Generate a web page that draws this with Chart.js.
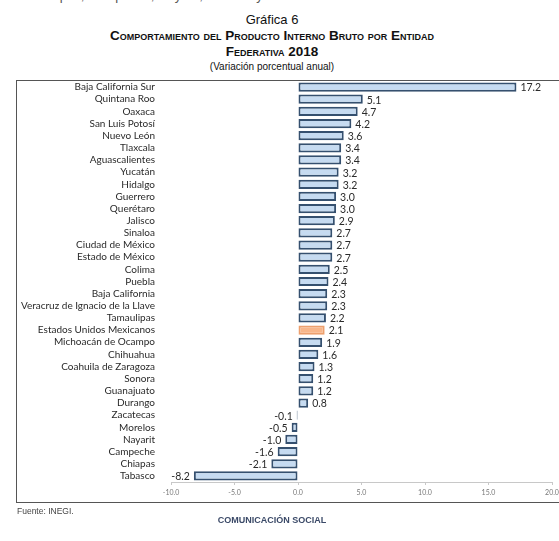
<!DOCTYPE html>
<html lang="es"><head>
<meta charset="utf-8">
<title>Gráfica 6</title>
<style type="text/css">
html, body { margin:0; padding:0; width:559px; height:541px; overflow:hidden; background:#ffffff; }
body { position:relative; font-family:"Liberation Sans",Arial,sans-serif; }
.cut { position:absolute; left:33px; top:-12px; font-size:13px; color:#555; white-space:nowrap; }
.t1 { position:absolute; left:0; width:544px; text-align:center; color:#111; }
.box { position:absolute; left:16px; top:80px; width:620px; height:421px; border:1px solid #555; }
#wrap { position:absolute; left:0; top:0; width:600px; height:541px; }
.src { position:absolute; left:17px; top:506px; font-size:8.5px; color:#444; }
.foot { position:absolute; left:0; width:544px; top:515px; text-align:center; font-size:9px; font-weight:bold; color:#3b4a68; }
</style>
<script src="https://cdn.jsdelivr.net/npm/chart.js"></script>
<script>
// entidades, ordenadas de mayor a menor
var entidades=["Baja California Sur","Quintana Roo","Oaxaca","San Luis Potosí","Nuevo León",
  "Tlaxcala","Aguascalientes","Yucatán","Hidalgo","Guerrero","Querétaro","Jalisco","Sinaloa",
  "Ciudad de México","Estado de México","Colima","Puebla","Baja California",
  "Veracruz de Ignacio de la Llave","Tamaulipas","Estados Unidos Mexicanos","Michoacán de Ocampo",
  "Chihuahua","Coahuila de Zaragoza","Sonora","Guanajuato","Durango","Zacatecas","Morelos",
  "Nayarit","Campeche","Chiapas","Tabasco"];
var variacion=[17.2,5.1,4.7,4.2,3.6,3.4,3.4,3.2,3.2,3.0,3.0,2.9,2.7,2.7,2.7,2.5,2.4,2.3,2.3,2.2,
  2.1,1.9,1.6,1.3,1.2,1.2,0.8,-0.1,-0.5,-1.0,-1.6,-2.1,-8.2];
var nacional="Estados Unidos Mexicanos";
var xTicks=[-10,-5,0,5,10,15,20];

function initChart() {
  fondo=[]; borde=[];
  for (i=0;i<entidades.length;i++) {
    if (entidades[i]==nacional) { fondo.push("#f8b68a"); borde.push("#eda06e"); }
    else { fondo.push("#c6dbf1"); borde.push("#35506f"); } }

  valores={id:'valores',afterDatasetsDraw:function(chart){
    var ctx=chart.ctx, meta=chart.getDatasetMeta(0);
    ctx.save(); ctx.font="10.5px Lato,sans-serif"; ctx.fillStyle="#2a2a2a"; ctx.textBaseline="middle";
    meta.data.forEach(function(bar,i){
      var v=variacion[i];
      if (v>=0) { ctx.textAlign="left"; ctx.fillText(v.toFixed(1),bar.x+4,bar.y+1); }
      else { ctx.textAlign="right"; ctx.fillText(v.toFixed(1),bar.x-4,bar.y+1); } });
    ctx.restore(); }};

  config={type:'bar',
    data:{labels:entidades,datasets:[{data:variacion,backgroundColor:fondo,borderColor:borde,
      borderWidth:2,borderSkipped:false,categoryPercentage:0.76,barPercentage:1}]},
    options:{indexAxis:'y',responsive:false,animation:false,
      layout:{padding:{left:0,top:81,right:48,bottom:39}},
      plugins:{legend:{display:false},tooltip:{enabled:false}},
      scales:{
        x:{min:-10,max:20,
          afterBuildTicks:function(s){ s.ticks=xTicks.map(function(v){return {value:v};}); },
          afterFit:function(s){ s.height=20; },
          grid:{display:true,drawOnChartArea:false,drawTicks:true,tickLength:3,color:"#c8c8c8"},
          border:{display:true,color:"#c8c8c8"},
          ticks:{color:"#777",font:{family:"Lato",size:7},padding:4,
            callback:function(v){ return Number(v).toFixed(1); }}},
        y:{afterFit:function(s){ s.width=171; },
          grid:{display:false},border:{display:false},
          ticks:{color:"#2a2a2a",font:{family:"Lato",size:10},padding:8,autoSkip:false}}}},
    plugins:[valores]};
  myChart=new Chart(document.getElementById('myChart'),config); }
</script></head>
<body onload="initChart();">
<div class="cut">Chiapas, Campeche, Nayarit, Morelos y Zacatecas.</div>
<div class="t1" style="top:12px;font-size:13px;">Gráfica 6</div>
<div class="t1" style="top:28px;font-size:13.5px;font-weight:bold;font-variant:small-caps;">Comportamiento del Producto Interno Bruto por Entidad</div>
<div class="t1" style="top:44px;font-size:13.5px;font-weight:bold;font-variant:small-caps;">Federativa 2018</div>
<div class="t1" style="top:61px;font-size:10px;">(Variación porcentual anual)</div>
<div class="box"></div>
<div id="wrap"><canvas id="myChart" width="600" height="541"></canvas></div>
<div class="src">Fuente: INEGI.</div>
<div class="foot">COMUNICACIÓN SOCIAL</div>
</body></html>
